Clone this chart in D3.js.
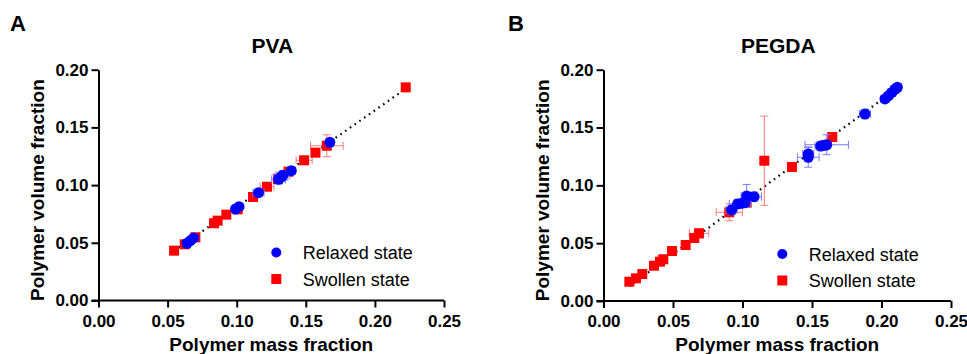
<!DOCTYPE html>
<html>
<head>
<meta charset="utf-8">
<script src="https://cdn.jsdelivr.net/npm/d3@7"></script>
<style>
  html, body { margin: 0; padding: 0; background: #fff; }
  svg { display: block; font-family: "Liberation Sans", Arial, Helvetica, sans-serif; }
</style>
</head>
<body>
<svg id="chart" width="967" height="354"></svg>
<script>
// ---------- DATA ----------
const xTicks = [0.00, 0.05, 0.10, 0.15, 0.20, 0.25];
const yTicks = [0.00, 0.05, 0.10, 0.15, 0.20];
const legendLabels = ["Relaxed state", "Swollen state"];

// Panel A: PVA
const pvaRelaxedX = [0.0641, 0.0665, 0.0689, 0.0992, 0.1017, 0.1158, 0.1303, 0.1320, 0.1334, 0.1395, 0.1674];
const pvaRelaxedY = [0.0496, 0.0518, 0.0542, 0.0793, 0.0813, 0.0934, 0.1050, 0.1070, 0.1085, 0.1125, 0.1371];
const pvaRelaxedXErr = [0.002, 0.002, 0.002, 0.002, 0.002, 0.004, 0.005, 0.005, 0.005, 0.003, 0.003];
const pvaRelaxedYErr = [0.002, 0.002, 0.002, 0.002, 0.002, 0.003, 0.004, 0.004, 0.004, 0.003, 0.002];

const pvaSwollenX = [0.0547, 0.0624, 0.0701, 0.0836, 0.0862, 0.0925, 0.1007, 0.1118, 0.1219, 0.1298, 0.1375, 0.1488, 0.1570, 0.1652, 0.2223];
const pvaSwollenY = [0.0432, 0.0487, 0.0548, 0.0669, 0.0692, 0.0744, 0.0790, 0.0897, 0.0986, 0.1053, 0.1116, 0.1215, 0.1281, 0.1341, 0.1847];
const pvaSwollenXErr = [0.001, 0.002, 0.002, 0.001, 0.001, 0.001, 0.002, 0.002, 0.005, 0.003, 0.002, 0.0058, 0.002, 0.0118, 0.001];
const pvaSwollenYErr = [0.001, 0.001, 0.002, 0.001, 0.001, 0.001, 0.001, 0.001, 0.002, 0.002, 0.002, 0.002, 0.002, 0.0095, 0.001];

const pvaFitX = [0.0547, 0.2223];
const pvaFitY = [0.0429, 0.1835];

// Panel B: PEGDA
const pegdaRelaxedX = [0.0922, 0.0965, 0.0994, 0.1018, 0.1030, 0.1083, 0.1473, 0.1473, 0.1562, 0.1588, 0.1606, 0.1881, 0.2025, 0.2049, 0.2073, 0.2097, 0.2114];
const pegdaRelaxedY = [0.0787, 0.0839, 0.0845, 0.0850, 0.0908, 0.0902, 0.1243, 0.1271, 0.1340, 0.1346, 0.1351, 0.1617, 0.1747, 0.1773, 0.1801, 0.1831, 0.1848];
const pegdaRelaxedXErr = [0.004, 0.006, 0.004, 0.004, 0.004, 0.0054, 0.0078, 0.004, 0.004, 0.004, 0.0156, 0.004, 0.003, 0.003, 0.003, 0.003, 0.003];
const pegdaRelaxedYErr = [0.004, 0.004, 0.003, 0.003, 0.010, 0.004, 0.0086, 0.006, 0.004, 0.004, 0.0086, 0.004, 0.002, 0.002, 0.003, 0.003, 0.003];

const pegdaSwollenX = [0.0186, 0.0234, 0.0279, 0.0363, 0.0406, 0.0430, 0.0493, 0.0591, 0.0653, 0.0687, 0.0905, 0.1030, 0.1157, 0.1356, 0.1646];
const pegdaSwollenY = [0.0167, 0.0196, 0.0233, 0.0305, 0.0340, 0.0361, 0.0432, 0.0484, 0.0545, 0.0585, 0.0767, 0.0850, 0.1213, 0.1159, 0.1418];
const pegdaSwollenXErr = [0.001, 0.001, 0.001, 0.001, 0.001, 0.001, 0.001, 0.001, 0.002, 0.007, 0.0094, 0.002, 0.001, 0.001, 0.001];
const pegdaSwollenYErr = [0.001, 0.001, 0.001, 0.001, 0.001, 0.001, 0.001, 0.001, 0.002, 0.004, 0.0073, 0.002, 0.0386, 0.001, 0.001];

const pegdaFitX = [0.0186, 0.2114];
const pegdaFitY = [0.0126, 0.1841];

// ---------- DRAWING ----------
const svg = d3.select("#chart");
const BLUE = "#0000ff", RED = "#ff0000";
const BLUE_ERR = "#7a7aff", RED_ERR = "#ff7a7a";

function zip(xs, ys, xe, ye) {
  return xs.map((x, i) => ({ x: x, y: ys[i], xe: xe[i], ye: ye[i] }));
}

function panel(cfg) {
  const x = d3.scaleLinear().domain([0, 0.25]).range([cfg.x0, cfg.x1]);
  const y = d3.scaleLinear().domain([0, 0.20]).range([cfg.y0, cfg.y1]);
  const g = svg.append("g");

  // panel letter
  g.append("text").attr("x", cfg.letterX).attr("y", 31)
    .attr("font-size", 22).attr("font-weight", "bold").text(cfg.letter);
  // title
  g.append("text").attr("x", (cfg.x0 + cfg.x1) / 2 + 1).attr("y", 53)
    .attr("text-anchor", "middle").attr("font-size", 21).attr("font-weight", "bold").text(cfg.title);

  // axes
  const xAxis = d3.axisBottom(x).tickValues(xTicks).tickFormat(d3.format(".2f"))
    .tickSize(7).tickSizeOuter(0).tickPadding(7);
  const yAxis = d3.axisLeft(y).tickValues(yTicks).tickFormat(d3.format(".2f"))
    .tickSize(7).tickSizeOuter(0).tickPadding(3);

  const gx = g.append("g").attr("transform", `translate(0,${cfg.y0})`).call(xAxis);
  const gy = g.append("g").attr("transform", `translate(${cfg.x0},0)`).call(yAxis);
  [gx, gy].forEach(a => {
    a.select(".domain").attr("stroke", "#000").attr("stroke-width", 2);
    a.selectAll(".tick line").attr("stroke", "#000").attr("stroke-width", 2);
    a.selectAll(".tick text").attr("fill", "#000").attr("font-size", 17).attr("font-weight", "bold")
      .attr("font-family", "\"Liberation Sans\", Arial, sans-serif");
  });
  gx.select(".domain").attr("d", `M${cfg.x0 - 7},0H${cfg.x1}`);

  // axis titles
  g.append("text").attr("x", (cfg.x0 + cfg.x1) / 2).attr("y", 351)
    .attr("text-anchor", "middle").attr("font-size", 19).attr("font-weight", "bold")
    .text("Polymer mass fraction");
  g.append("text").attr("transform", `translate(${cfg.yTitleX},${(cfg.y0 + cfg.y1) / 2 + 5}) rotate(-90)`)
    .attr("text-anchor", "middle").attr("font-size", 19).attr("font-weight", "bold")
    .text("Polymer volume fraction");

  // dotted fit line
  g.append("line")
    .attr("x1", x(cfg.fitX[0])).attr("y1", y(cfg.fitY[0]))
    .attr("x2", x(cfg.fitX[1])).attr("y2", y(cfg.fitY[1]))
    .attr("stroke", "#000").attr("stroke-width", 2.2)
    .attr("stroke-dasharray", "1.6 4.2");

  const relaxed = zip(cfg.rx, cfg.ry, cfg.rxe, cfg.rye);
  const swollen = zip(cfg.sx, cfg.sy, cfg.sxe, cfg.sye);

  function errorBars(data, color) {
    const eg = g.append("g").attr("stroke", color).attr("stroke-width", 1).attr("fill", "none");
    const cap = 4;
    data.forEach(d => {
      const cx = x(d.x), cy = y(d.y);
      const xl = x(d.x - d.xe), xr = x(d.x + d.xe);
      const yt = y(d.y + d.ye), yb = y(d.y - d.ye);
      eg.append("path").attr("d",
        `M${xl},${cy}H${xr}M${xl},${cy - cap}V${cy + cap}M${xr},${cy - cap}V${cy + cap}` +
        `M${cx},${yt}V${yb}M${cx - cap},${yt}H${cx + cap}M${cx - cap},${yb}H${cx + cap}`);
    });
  }

  errorBars(swollen, RED_ERR);
  g.append("g").selectAll("rect").data(swollen).join("rect")
    .attr("x", d => x(d.x) - 5).attr("y", d => y(d.y) - 5)
    .attr("width", 10).attr("height", 10).attr("fill", RED);

  errorBars(relaxed, BLUE_ERR);
  g.append("g").selectAll("circle").data(relaxed).join("circle")
    .attr("cx", d => x(d.x)).attr("cy", d => y(d.y)).attr("r", 5.5).attr("fill", BLUE);

  // legend
  const lg = g.append("g");
  lg.append("circle").attr("cx", cfg.legX).attr("cy", cfg.legY).attr("r", 5).attr("fill", BLUE);
  lg.append("rect").attr("x", cfg.legX - 5).attr("y", cfg.legY + 26.5 - 5)
    .attr("width", 10).attr("height", 10).attr("fill", RED);
  lg.append("text").attr("x", cfg.legX + 26.5).attr("y", cfg.legY + 6.5)
    .attr("font-size", 18).text(legendLabels[0]);
  lg.append("text").attr("x", cfg.legX + 26.5).attr("y", cfg.legY + 33)
    .attr("font-size", 18).text(legendLabels[1]);
}

panel({
  letter: "A", letterX: 10, title: "PVA",
  x0: 98.5, x1: 444, y0: 300.5, y1: 69.7, yTitleX: 44,
  rx: pvaRelaxedX, ry: pvaRelaxedY, rxe: pvaRelaxedXErr, rye: pvaRelaxedYErr,
  sx: pvaSwollenX, sy: pvaSwollenY, sxe: pvaSwollenXErr, sye: pvaSwollenYErr,
  fitX: pvaFitX, fitY: pvaFitY,
  legX: 276.3, legY: 252.5
});

panel({
  letter: "B", letterX: 508, title: "PEGDA",
  x0: 603.5, x1: 951, y0: 301, y1: 69.7, yTitleX: 549,
  rx: pegdaRelaxedX, ry: pegdaRelaxedY, rxe: pegdaRelaxedXErr, rye: pegdaRelaxedYErr,
  sx: pegdaSwollenX, sy: pegdaSwollenY, sxe: pegdaSwollenXErr, sye: pegdaSwollenYErr,
  fitX: pegdaFitX, fitY: pegdaFitY,
  legX: 782.3, legY: 254
});
</script>
</body>
</html>
